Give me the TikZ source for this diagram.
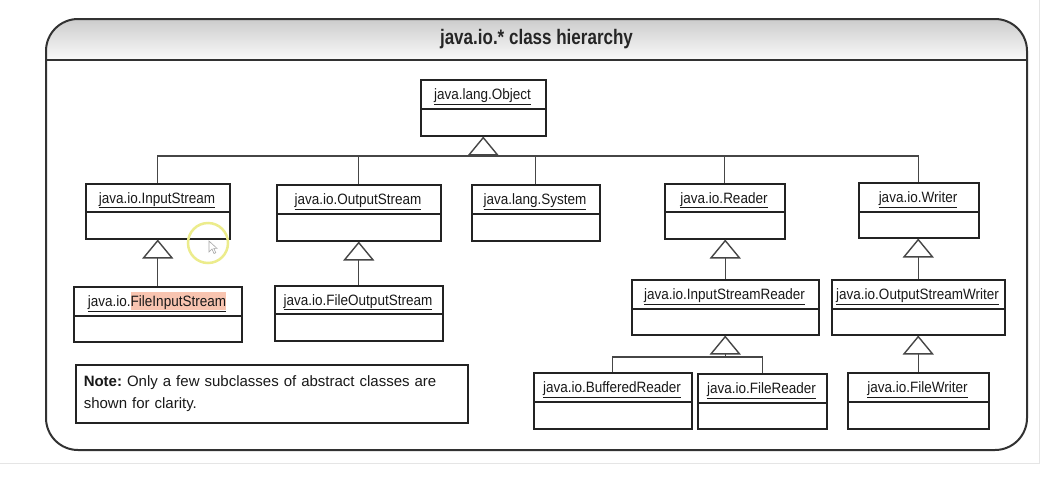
\documentclass[tikz,border=0pt]{standalone}
\usepackage{fontspec}
\setmainfont{Liberation Sans}
\newfontfamily\lblfont[FakeStretch=0.9]{Liberation Sans}
\newfontfamily\ttlfont[FakeStretch=0.81]{Liberation Sans}
\usetikzlibrary{arrows.meta,calc}
\frenchspacing
\definecolor{hlcol}{RGB}{248,196,176}
\definecolor{linecol}{RGB}{35,35,35}
\definecolor{conncol}{RGB}{70,70,70}
\definecolor{framecol}{RGB}{50,50,50}
\definecolor{ringcol}{RGB}{236,236,140}
\newcommand\hlbox[1]{{\setlength{\fboxsep}{0pt}\colorbox{hlcol}{\rule{0pt}{15pt}\vphantom{j}#1}}}
\newcommand\umlcls[7]{%
  \pgfmathsetmacro\clsw{#4-#2}%
  \pgfmathsetmacro\clsh{#6-#3}%
  \node[clsbox, minimum width=\clsw pt, minimum height=\clsh pt, anchor=north west] (#1) at (#2,-#3) {};
  \draw[clsline] (#2,-#5) -- (#4,-#5);
  \node[clslbl] (#1-t) at ({(#2+#4)/2},{-(#3+#5)/2-5.5}) {\underline{#7}};
}
\begin{document}
\begin{tikzpicture}[x=1pt,y=1pt,
  clsbox/.style={draw=linecol, line width=1.5pt, inner sep=0pt},
  clsline/.style={draw=linecol, line width=1.5pt},
  clslbl/.style={anchor=base, inner sep=0pt, text=black!90, font=\lblfont\fontsize{15}{18}\selectfont},
  conn/.style={draw=conncol, line width=1.2pt},
  inh/.style={conn, -{Triangle[width=31pt,length=19pt,fill=white,line width=1.4pt]}},
  framebox/.style={draw=framecol, line width=2pt, rounded corners=32pt},
  notebox/.style={draw=linecol, line width=1.5pt, inner xsep=8pt, inner ysep=0pt, text width=376pt, align=left, minimum height=58pt, text=black!90, font=\fontsize{15}{22}\selectfont}
]
\useasboundingbox (0,0) rectangle (1057,-480);
\fill[white] (0,0) rectangle (1057,-480);
% faint screenshot edges
\draw[gray!20, line width=1pt] (0,-463) -- (1040,-463);
\draw[gray!20, line width=1pt] (1039,0) -- (1039,-463);
% frame with shaded title band
\begin{scope}
  \clip[rounded corners=32pt] (46,-19) rectangle (1027,-450);
  \shade[top color=gray!40, bottom color=white!96!gray] (46,-19) rectangle (1027,-60);
\end{scope}
\draw[framebox] (46,-19) rectangle (1027,-450);
\draw[draw=framecol, line width=2pt] (46,-60) -- (1027,-60);
\node[font=\ttlfont\bfseries\fontsize{21}{24}\selectfont, text=black!85] (title) at (536.5,-39.5) {java.io.* class hierarchy};
% classes
\umlcls{obj}{420}{79}{545}{109}{135}{java.lang.Object}
\umlcls{is}{85}{183}{229}{212}{238}{java.io.InputStream}
\umlcls{os}{276}{184}{440}{214}{240}{java.io.OutputStream}
\umlcls{sys}{471}{184}{599}{214}{240}{java.lang.System}
\umlcls{rd}{664}{183}{784}{212}{238}{java.io.Reader}
\umlcls{wr}{858}{182}{978}{212}{237}{java.io.Writer}
\umlcls{fis}{73}{286}{241}{316}{341}{java.io.\hlbox{FileInputStream}}
\umlcls{fos}{274}{285}{442}{314}{340}{java.io.FileOutputStream}
\umlcls{isr}{631}{279}{818}{309}{334}{java.io.InputStreamReader}
\umlcls{osw}{831}{279}{1004}{309}{334}{java.io.OutputStreamWriter}
\umlcls{br}{533}{372}{691}{402}{428}{java.io.BufferedReader}
\umlcls{fr}{697}{373}{826}{403}{428}{java.io.FileReader}
\umlcls{fw}{847}{372}{988}{402}{428}{java.io.FileWriter}
% buses
\coordinate (tbus) at (0,-156);
\coordinate (rbus) at (0,-357);
\draw[conn] (is.north) -- (is.north |- tbus) -- (wr.north |- tbus) -- (wr.north);
\draw[conn] (os.north) -- (os.north |- tbus);
\draw[conn] (sys.north) -- (sys.north |- tbus);
\draw[conn] (rd.north) -- (rd.north |- tbus);
\draw[inh] (obj.south |- tbus) -- (obj.south);
\draw[inh] (fis.north) -- (fis.north |- is.south);
\draw[inh] (fos.north) -- (fos.north |- os.south);
\draw[inh] (isr.north) -- (isr.north |- rd.south);
\draw[inh] (osw.north) -- (osw.north |- wr.south);
\draw[conn] (br.north) -- (br.north |- rbus) -- (fr.north |- rbus) -- (fr.north);
\draw[inh] (isr.south |- rbus) -- (isr.south);
\draw[inh] (fw.north) -- (fw.north |- osw.south);
% note
\node[notebox, anchor=north west] (note) at (75,-364) {\textbf{Note:} Only a few subclasses of abstract classes are\\shown for clarity.};
% screen-recording cursor highlight
\draw[ringcol, line width=2.5pt] (208,-243) circle[radius=20];
\begin{scope}[shift={(209,-241)}]
  \draw[fill=white, draw=gray!70, line width=0.6pt] (0,0) -- (0,-11) -- (3,-8) -- (5,-12.5) -- (6.8,-11.7) -- (4.8,-7.4) -- (8,-7.4) -- cycle;
\end{scope}
\end{tikzpicture}
\end{document}
